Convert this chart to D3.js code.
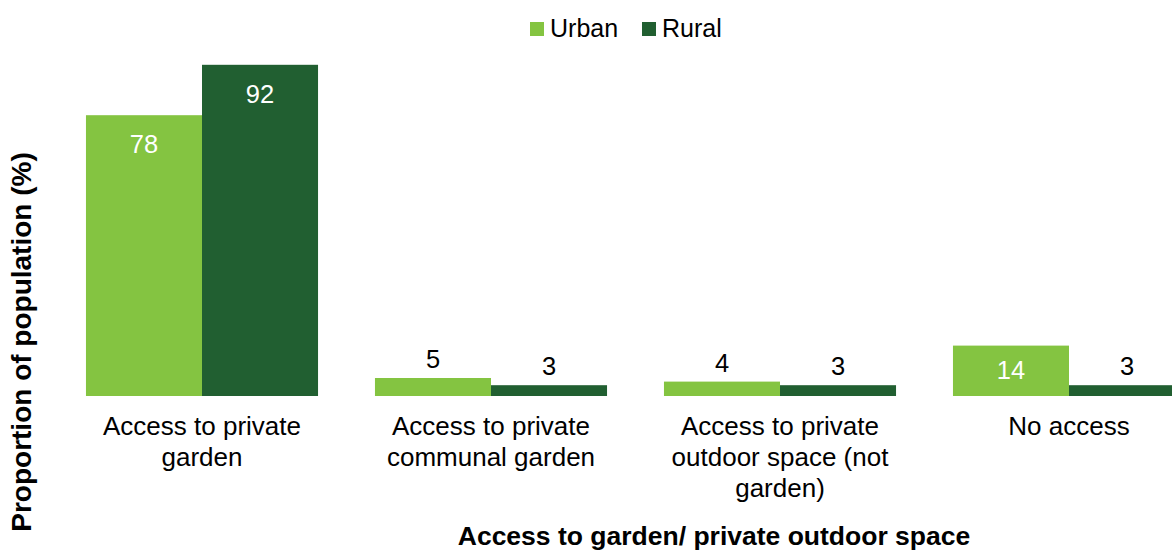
<!DOCTYPE html>
<html>
<head>
<meta charset="utf-8">
<script src="https://cdn.jsdelivr.net/npm/d3@7"></script>
<style>
  html, body { margin: 0; padding: 0; background: #fff; overflow: hidden; }
  svg { display: block; font-family: "Liberation Sans", Arial, sans-serif; }
</style>
</head>
<body>
<svg id="chart" width="1172" height="550"></svg>
<script>
const categories = [
  "Access to private garden",
  "Access to private communal garden",
  "Access to private outdoor space (not garden)",
  "No access"
];
const seriesNames = ["Urban", "Rural"];
const urbanValues = [78, 5, 4, 14];
const ruralValues = [92, 3, 3, 3];
const colors = ["#84c441", "#215f31"];
const yTitle = "Proportion of population (%)";
const xTitle = "Access to garden/ private outdoor space";

const svg = d3.select("#chart");
const baseY = 396;

const x0 = d3.scaleBand().domain(categories).range([57.5, 1213.5])
  .paddingInner(0.197).paddingOuter(0.0985);
const x1 = d3.scaleBand().domain(seriesNames).range([0, x0.bandwidth()]);
const y = d3.scaleLinear().domain([0, 100]).range([baseY, 36]);

const rows = categories.map((c, i) => ({
  cat: c,
  vals: [
    { s: "Urban", v: urbanValues[i], c: colors[0] },
    { s: "Rural", v: ruralValues[i], c: colors[1] }
  ]
}));

const g = svg.append("g");
const groups = g.selectAll("g.grp").data(rows).join("g")
  .attr("class", "grp")
  .attr("transform", d => `translate(${x0(d.cat)},0)`);

groups.selectAll("rect").data(d => d.vals).join("rect")
  .attr("x", d => x1(d.s))
  .attr("y", d => y(d.v))
  .attr("width", x1.bandwidth())
  .attr("height", d => y(0) - y(d.v))
  .attr("fill", d => d.c);

groups.selectAll("text.val").data(d => d.vals).join("text")
  .attr("class", "val")
  .attr("x", d => x1(d.s) + x1.bandwidth() / 2)
  .attr("y", d => d.v >= 10 ? Math.min(y(d.v) + 38, y(0) - 17) : y(d.v) - 10)
  .attr("text-anchor", "middle")
  .attr("font-size", 25.5)
  .attr("fill", d => d.v >= 10 ? "#ffffff" : "#000000")
  .text(d => d.v);

// x axis tick labels (wrapped)
const xAxis = d3.axisBottom(x0).tickSize(0).tickPadding(0);
const axG = svg.append("g").attr("transform", `translate(0,${baseY})`).call(xAxis);
axG.select(".domain").remove();
axG.selectAll(".tick text")
  .attr("font-size", 26)
  .attr("font-family", "Liberation Sans, Arial, sans-serif")
  .attr("fill", "#000")
  .attr("y", 0)
  .attr("dy", null)
  .each(function(d) {
    const t = d3.select(this);
    const words = d.split(" ");
    t.text(null);
    const maxW = x0.bandwidth() - 2;
    let line = [];
    let lineNo = 0;
    let tspan = t.append("tspan").attr("x", 0).attr("y", 39);
    words.forEach(w => {
      line.push(w);
      tspan.text(line.join(" "));
      if (tspan.node().getComputedTextLength() > maxW && line.length > 1) {
        line.pop();
        tspan.text(line.join(" "));
        line = [w];
        lineNo++;
        tspan = t.append("tspan").attr("x", 0).attr("y", 39 + lineNo * 31).text(w);
      }
    });
  });

// axis titles
svg.append("text")
  .attr("x", 714).attr("y", 545)
  .attr("text-anchor", "middle")
  .attr("font-size", 26.5)
  .attr("font-weight", "bold")
  .text(xTitle);

svg.append("text")
  .attr("transform", "translate(21,342) rotate(-90)")
  .attr("text-anchor", "middle")
  .attr("dominant-baseline", "central")
  .attr("font-size", 28)
  .attr("font-weight", "bold")
  .text(yTitle);

// legend
const legendX = [530, 642];
const leg = svg.append("g").selectAll("g").data(seriesNames).join("g")
  .attr("transform", (d, i) => `translate(${legendX[i]},22)`);
leg.append("rect").attr("width", 14).attr("height", 14)
  .attr("fill", (d, i) => colors[i]);
leg.append("text").attr("x", 20).attr("y", 15)
  .attr("font-size", 25)
  .text(d => d);
</script>
</body>
</html>
